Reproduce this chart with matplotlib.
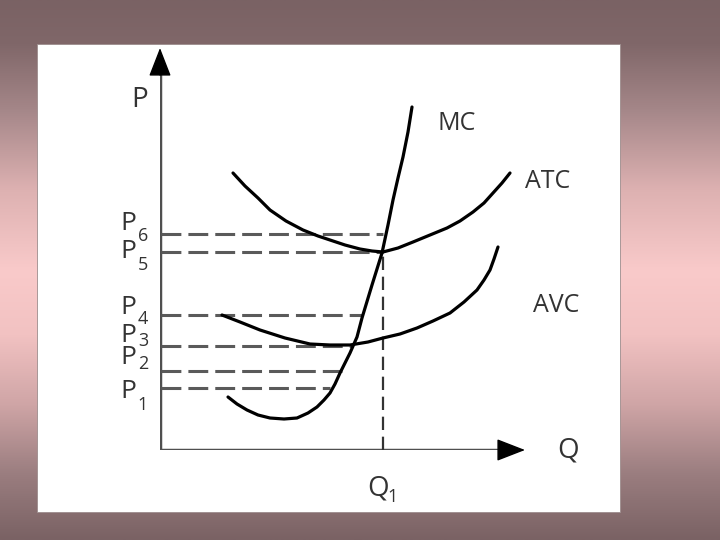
import numpy as np
import matplotlib.pyplot as plt
from matplotlib.colors import LinearSegmentedColormap
from matplotlib.patches import Rectangle

# Кривые издержек (Q - объём, P - цена)
mc_q = [6.8, 7.7, 8.7, 9.8, 11.0, 12.4, 13.7, 14.8, 15.7, 16.4, 17.0, 17.5, 18.0,
        18.5, 19.0, 19.7, 20.2, 21.2, 22.2, 22.8, 23.3, 23.8, 24.3, 24.8, 25.2]
mc_p = [5.3, 4.6, 4.0, 3.5, 3.2, 3.1, 3.2, 3.7, 4.3, 5.0, 5.7, 6.6, 7.7,
        8.7, 9.7, 11.3, 13.2, 16.5, 19.7, 22.5, 25.0, 27.2, 29.3, 31.8, 34.3]

atc_q = [7.3, 8.5, 9.8, 11.0, 12.6, 14.3, 15.8, 17.0, 18.5, 20.0, 21.2,
         22.3, 23.8, 25.3, 27.0, 28.7, 30.0, 31.3, 32.4, 33.3, 34.2, 35.0]
atc_p = [27.7, 26.4, 25.2, 24.0, 22.9, 22.0, 21.4, 21.0, 20.5, 20.1, 19.9,
         19.8, 20.2, 20.8, 21.5, 22.2, 22.9, 23.8, 24.7, 25.7, 26.7, 27.7]

avc_q = [6.2, 8.0, 10.0, 12.5, 15.0, 17.0, 19.0, 20.8, 22.3, 24.0,
         25.7, 27.3, 29.0, 30.4, 31.7, 32.4, 33.0, 33.4, 33.8]
avc_p = [13.5, 12.8, 12.0, 11.2, 10.6, 10.5, 10.5, 10.8, 11.2, 11.6,
         12.2, 12.9, 13.7, 14.8, 16.0, 17.0, 18.0, 19.1, 20.3]

# Уровни цен P1..P6 и где пунктир упирается в MC
price_names = ["1", "2", "3", "4", "5", "6"]
price_levels = [6.2, 7.9, 10.4, 13.5, 19.8, 21.6]
price_ends = [17.0, 18.2, 19.3, 20.2, 22.3, 22.3]

q1 = 22.3
q1_top = 19.8

# Фон слайда
fig = plt.figure(figsize=(7.2, 5.4), dpi=100)
bg = fig.add_axes([0, 0, 1, 1])
cmap = LinearSegmentedColormap.from_list("slide", [
    (0.0, "#7a6264"), (0.08, "#806769"), (0.2, "#a48688"),
    (0.35, "#ddb1b1"), (0.5, "#f9caca"), (0.62, "#f2c2c2"),
    (0.75, "#cfa5a6"), (0.88, "#9a7d7f"), (1.0, "#7a6264")])
grad = np.linspace(0, 1, 256).reshape(-1, 1)
bg.imshow(grad, cmap=cmap, aspect="auto", extent=[0, 1, 0, 1], origin="upper")
bg.set_xlim(0, 1)
bg.set_ylim(0, 1)
bg.axis("off")
bg.add_patch(Rectangle((37 / 720, 28 / 540), 583 / 720, 468 / 540,
                       facecolor="white", edgecolor="#9c8c8c", lw=0.6))

# Оси графика: начало координат в пикселе (160, 450)
ax = fig.add_axes([160 / 720, 90 / 540, 370 / 720, 400 / 540])
ax.set_xlim(0, 37)
ax.set_ylim(0, 40)
ax.axis("off")

axis_col = "#4f4f4f"
ax.plot([0, 0], [0, 38], color=axis_col, lw=2.5, solid_capstyle="butt")
ax.plot([0, 35], [0, 0], color=axis_col, lw=2.5, solid_capstyle="butt")
head = dict(arrowstyle="-|>,head_length=0.9,head_width=0.35", color="black",
            lw=1, mutation_scale=20, shrinkA=0, shrinkB=0)
ax.annotate("", xy=(0, 40.2), xytext=(0, 37.5), arrowprops=head, annotation_clip=False)
ax.annotate("", xy=(36.5, 0), xytext=(34.0, 0), arrowprops=head, annotation_clip=False)

dash_col = "#5a5a5a"
for lvl, end in zip(price_levels, price_ends):
    ax.plot([0.1, end], [lvl, lvl], color=dash_col, lw=2.2, dashes=(6.5, 2.3))
ax.plot([q1, q1], [0, q1_top], color="#333333", lw=1.6, dashes=(6, 3))

for qs, ps in [(atc_q, atc_p), (avc_q, avc_p), (mc_q, mc_p)]:
    ax.plot(qs, ps, color="black", lw=2.3, solid_capstyle="round",
            solid_joinstyle="round")

txt = dict(color="#333333", family="Open Sans", ha="center", va="center", clip_on=False)
ax.text(-2.0, 35.0, "P", fontsize=20, **txt)
ax.text(40.8, 0.0, "Q", fontsize=20, **txt)
ax.text(29.7, 32.7, "MC", fontsize=18, **txt)
ax.text(38.8, 26.9, "ATC", fontsize=18, **txt)
ax.text(39.6, 14.5, "AVC", fontsize=18, **txt)
ax.text(q1 - 0.5, -3.8, "Q", fontsize=20, **txt)
ax.text(q1 + 1.0, -4.7, "1", fontsize=13, **txt)

# подписи P1..P6: буква и индекс
letter_y = [5.8, 9.2, 11.4, 14.3, 19.8, 22.6]
digit_y = [4.5, 8.6, 10.9, 13.1, 18.5, 21.4]
for name, ly, dy in zip(price_names, letter_y, digit_y):
    ax.text(-3.2, ly, "P", fontsize=19, **txt)
    ax.text(-1.7, dy, name, fontsize=13, **txt)

fig.savefig("out.png", dpi=100)
